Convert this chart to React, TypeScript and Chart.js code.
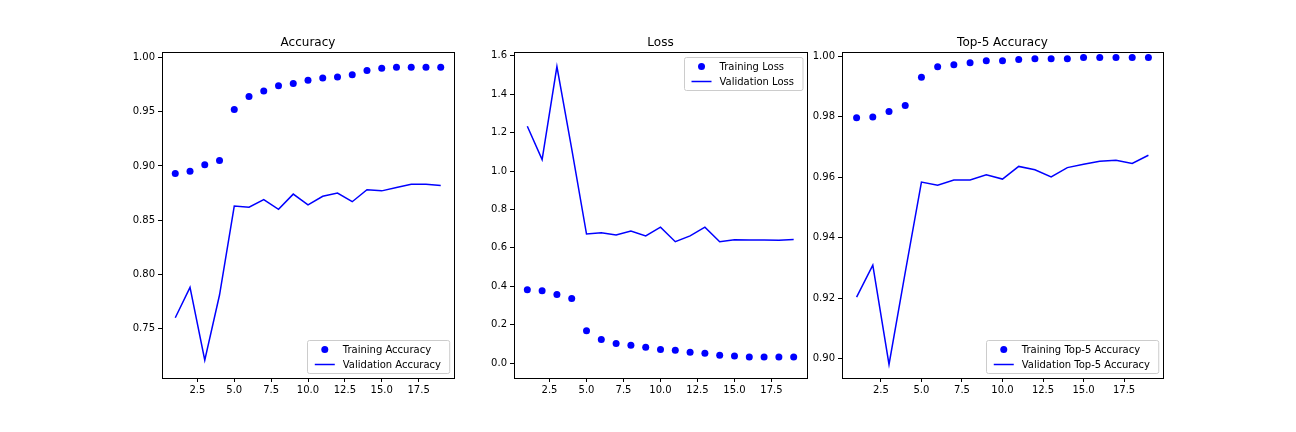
import { useEffect, useRef } from "react";
import Chart from "chart.js/auto";

const epochs = [1, 2, 3, 4, 5, 6, 7, 8, 9, 10, 11, 12, 13, 14, 15, 16, 17, 18, 19];
const xTicks = [2.5, 5, 7.5, 10, 12.5, 15, 17.5];

const trainAcc = [0.893, 0.895, 0.901, 0.905, 0.952, 0.964, 0.969, 0.974, 0.976, 0.979, 0.981, 0.982, 0.984, 0.988, 0.990, 0.991, 0.991, 0.991, 0.991];
const valAcc = [0.760, 0.788, 0.721, 0.781, 0.863, 0.862, 0.869, 0.860, 0.874, 0.864, 0.872, 0.875, 0.867, 0.878, 0.877, 0.880, 0.883, 0.883, 0.882];
const accTicks = [0.75, 0.8, 0.85, 0.9, 0.95, 1.0];

const trainLoss = [0.382, 0.377, 0.357, 0.336, 0.168, 0.122, 0.102, 0.092, 0.082, 0.071, 0.066, 0.056, 0.051, 0.041, 0.036, 0.031, 0.031, 0.031, 0.031];
const valLoss = [1.233, 1.06, 1.544, 1.116, 0.672, 0.678, 0.667, 0.688, 0.662, 0.708, 0.632, 0.662, 0.708, 0.632, 0.642, 0.641, 0.641, 0.640, 0.643];
const lossTicks = [0, 0.2, 0.4, 0.6, 0.8, 1.0, 1.2, 1.4, 1.6];

const trainTop5 = [0.9797, 0.980, 0.9818, 0.9838, 0.9931, 0.9966, 0.9973, 0.9979, 0.9986, 0.9986, 0.999, 0.9993, 0.9993, 0.9993, 0.9997, 0.9997, 0.9997, 0.9997, 0.9997];
const valTop5 = [0.9203, 0.9309, 0.898, 0.9285, 0.9584, 0.9574, 0.9591, 0.9591, 0.9608, 0.9594, 0.9636, 0.9625, 0.9601, 0.9632, 0.9643, 0.9653, 0.9656, 0.9646, 0.9673];
const top5Ticks = [0.9, 0.92, 0.94, 0.96, 0.98, 1.0];

const FONT = "'DejaVu Sans', sans-serif";
const BLUE = "#0000ff";

interface PanelProps {
  left: number; right: number; title: string;
  train: number[]; val: number[]; trainLabel: string; valLabel: string;
  yMin: number; yMax: number; yTicks: number[]; decimals: number; legendTop: boolean;
}

const legendPlugin = (p: PanelProps) => ({
  id: "mplLegend",
  afterDraw(chart: any) {
    const { ctx, chartArea: a } = chart;
    ctx.save();
    // frame
    ctx.strokeStyle = "#000";
    ctx.lineWidth = 1;
    ctx.strokeRect(Math.round(a.left) + 0.5, Math.round(a.top) + 0.5, Math.round(a.right - a.left), Math.round(a.bottom - a.top));
    ctx.font = `12px ${FONT}`;
    ctx.fillStyle = "#000";
    ctx.textAlign = "center";
    ctx.textBaseline = "alphabetic";
    ctx.fillText(p.title, (a.left + a.right) / 2, a.top - 6);
    ctx.font = `10px ${FONT}`;
    const w = Math.max(ctx.measureText(p.trainLabel).width, ctx.measureText(p.valLabel).width) + 44;
    const h = 33;
    const x = a.right - w - 5;
    const y = p.legendTop ? a.top + 5 : a.bottom - h - 5;
    ctx.fillStyle = "rgba(255,255,255,0.8)";
    ctx.strokeStyle = "#ccc";
    ctx.beginPath();
    ctx.roundRect(Math.round(x) + 0.5, Math.round(y) + 0.5, w, h, 2);
    ctx.fill();
    ctx.stroke();
    ctx.fillStyle = BLUE;
    ctx.beginPath();
    ctx.arc(x + 18, y + 9.5, 3.5, 0, Math.PI * 2);
    ctx.fill();
    ctx.strokeStyle = BLUE;
    ctx.lineWidth = 1.5;
    ctx.beginPath();
    ctx.moveTo(x + 8, y + 24.5);
    ctx.lineTo(x + 28, y + 24.5);
    ctx.stroke();
    ctx.fillStyle = "#000";
    ctx.textAlign = "left";
    ctx.textBaseline = "middle";
    ctx.fillText(p.trainLabel, x + 36, y + 10);
    ctx.fillText(p.valLabel, x + 36, y + 25);
    ctx.restore();
  },
});

const Panel = (p: PanelProps) => {
  const ref = useRef<HTMLCanvasElement | null>(null);
  useEffect(() => {
    if (!ref.current) return;
    const chart = new Chart(ref.current, {
      type: "line",
      data: {
        datasets: [
          {
            data: epochs.map((e, i) => ({ x: e, y: p.train[i] })),
            showLine: false, pointRadius: 3.5, pointBackgroundColor: BLUE, pointBorderWidth: 0, borderColor: BLUE,
          },
          {
            data: epochs.map((e, i) => ({ x: e, y: p.val[i] })),
            pointRadius: 0, borderColor: BLUE, borderWidth: 1.5, tension: 0,
          },
        ],
      },
      options: {
        animation: false, responsive: false, events: [],
        layout: { padding: { top: 52, right: 1, left: 0, bottom: 0 } },
        plugins: { legend: { display: false }, tooltip: { enabled: false } },
        scales: {
          x: {
            type: "linear", min: 0.1, max: 19.9,
            grid: { display: true, drawOnChartArea: false, drawTicks: true, tickLength: 4, tickColor: "#000", color: "#000" },
            border: { color: "#000" },
            afterBuildTicks: (s: any) => { s.ticks = xTicks.map((v) => ({ value: v })); },
            afterFit: (s: any) => { s.height = 54; },
            ticks: { color: "#000", font: { family: FONT, size: 10 }, maxRotation: 0, padding: 2, callback: (v: any) => Number(v).toFixed(1) },
          },
          y: {
            min: p.yMin, max: p.yMax,
            grid: { display: true, drawOnChartArea: false, drawTicks: true, tickLength: 4, tickColor: "#000", color: "#000" },
            border: { color: "#000" },
            afterBuildTicks: (s: any) => { s.ticks = p.yTicks.map((v) => ({ value: v })); },
            afterFit: (s: any) => { s.width = 60; },
            ticks: { color: "#000", font: { family: FONT, size: 10 }, padding: 3, callback: (v: any) => Number(v).toFixed(p.decimals) },
          },
        },
      },
      plugins: [legendPlugin(p)],
    });
    return () => chart.destroy();
  }, []);
  const w = p.right - p.left + 61;
  return (
    <canvas ref={ref} width={w} height={432}
      style={{ position: "absolute", left: p.left - 60, top: 0, width: w, height: 432 }} />
  );
};

const App = () => (
  <div style={{ position: "fixed", left: 0, top: 0, width: 1296, height: 432, background: "#fff" }}>
    <Panel left={162} right={457} title="Accuracy" train={trainAcc} val={valAcc}
      trainLabel="Training Accuracy" valLabel="Validation Accuracy"
      yMin={0.7045} yMax={1.005} yTicks={accTicks} decimals={2} legendTop={false} />
    <Panel left={514} right={810} title="Loss" train={trainLoss} val={valLoss}
      trainLabel="Training Loss" valLabel="Validation Loss"
      yMin={-0.078} yMax={1.62} yTicks={lossTicks} decimals={1} legendTop={true} />
    <Panel left={842} right={1166} title="Top-5 Accuracy" train={trainTop5} val={valTop5}
      trainLabel="Training Top-5 Accuracy" valLabel="Validation Top-5 Accuracy"
      yMin={0.8935} yMax={1.0015} yTicks={top5Ticks} decimals={2} legendTop={false} />
  </div>
);

export default App;
